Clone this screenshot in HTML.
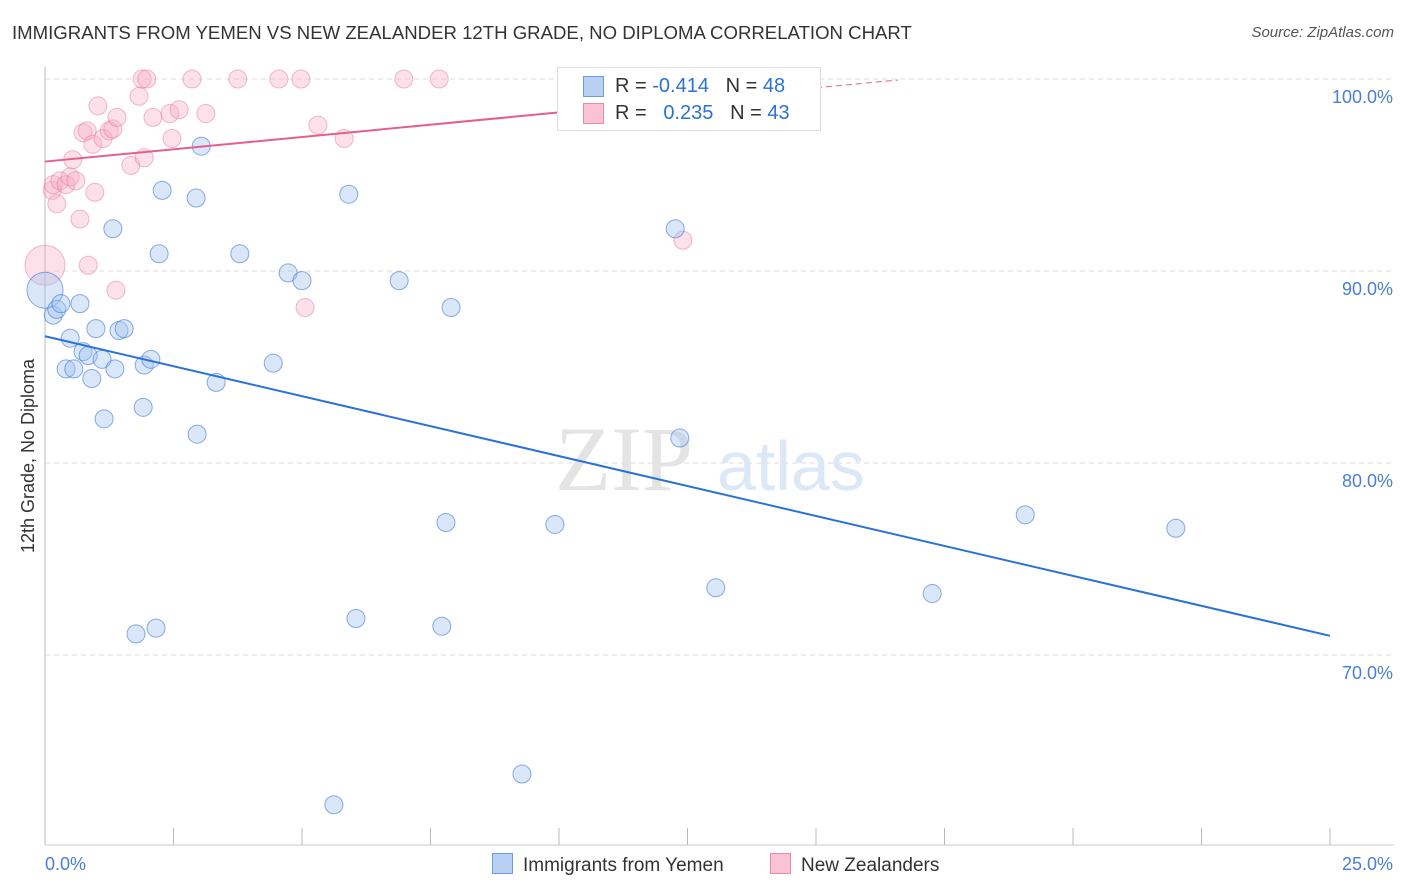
<!DOCTYPE html>
<html><head><meta charset="utf-8"><style>
body{margin:0;background:#fff;font-family:"Liberation Sans",sans-serif;}
#wrap{position:relative;width:1406px;height:892px;overflow:hidden}
.t{position:absolute;white-space:nowrap}
</style></head><body>
<div id="wrap">
<div class="t" style="left:12px;top:22px;font-size:18.6px;color:#333">IMMIGRANTS FROM YEMEN VS NEW ZEALANDER 12TH GRADE, NO DIPLOMA CORRELATION CHART</div>
<div class="t" style="right:12px;top:24px;font-size:15px;color:#555;font-style:italic">Source: ZipAtlas.com</div>
<svg id="svg" width="1406" height="892" style="position:absolute;left:0;top:0"></svg>
</div>
<script>
const xTicks=[0,25];
const yTicks=[100,90,80,70];
const blueX=[0,0.16,0.23,0.31,0.68,0.49,0.99,1.44,1.54,0.74,0.84,1.11,0.41,0.56,0.91,1.36,1.93,2.06,1.15,1.91,2.96,3.33,4.44,2.28,2.94,3.04,1.32,2.22,3.79,4.73,5.00,5.91,6.89,7.90,12.26,12.35,7.80,9.92,13.05,17.26,19.07,22.00,1.77,2.16,6.05,7.72,9.28,5.62];
const blueY=[89.0,87.7,88.0,88.3,88.3,86.5,87.0,86.9,87.0,85.8,85.6,85.4,84.9,84.9,84.4,84.9,85.1,85.4,82.3,82.9,81.5,84.2,85.2,94.2,93.8,96.5,92.2,90.9,90.9,89.9,89.5,94.0,89.5,88.1,92.2,81.3,76.9,76.8,73.5,73.2,77.3,76.6,71.1,71.4,71.9,71.5,63.8,62.2];
const pinkX=[0,0.14,0.23,0.16,0.29,0.41,0.49,0.60,0.54,0.68,0.84,0.97,1.38,0.74,0.82,0.93,1.03,1.13,1.25,1.32,1.40,1.67,1.83,1.93,1.89,1.98,2.10,2.43,2.47,2.61,3.13,2.86,3.75,4.55,4.98,5.31,5.82,5.06,6.98,7.67,12.41];
const pinkY=[90.3,94.2,93.5,94.5,94.7,94.5,94.9,94.7,95.8,92.7,90.3,94.1,89.0,97.2,97.3,96.6,98.6,96.9,97.3,97.4,98.0,95.5,99.1,95.9,100,100,98.0,98.2,96.9,98.4,98.2,100,100,100,100,97.6,96.9,88.1,100,100,91.6];
const blueTrend=[86.6,71.0];
const pinkTrend=[95.7,102.1];
const X=v=>45+v/25*1285, Y=v=>79+(100-v)*19.2;
const svg=document.getElementById('svg');const NS='http://www.w3.org/2000/svg';
function mk(tag,at,parent){const e=document.createElementNS(NS,tag);for(const k in at)e.setAttribute(k,at[k]);(parent||svg).appendChild(e);return e;}
yTicks.forEach(v=>{const l=mk('line',{x1:45,x2:1394,y1:Y(v),y2:Y(v),stroke:'#ddd','stroke-dasharray':'5,4'});


const t=mk('text',{x:1393,y:Y(v)+24,'text-anchor':'end','font-size':18,fill:'#4a7fd4','font-family':'Liberation Sans'});t.textContent=v.toFixed(1)+'%';

});
mk('line',{x1:45,x2:45,y1:67,y2:845,stroke:'#bbb'});
mk('line',{x1:45,x2:1394,y1:845,y2:845,stroke:'#ccc'});
for(let i=1;i<=10;i++){const x=X(i*2.5);const l=mk('line',{x1:x,x2:x,y1:828,y2:845,stroke:'#bbb'});

}
xTicks.forEach((v,i)=>{const t=mk('text',{x:i?1393:45,y:870,'text-anchor':i?'end':'start','font-size':18,fill:'#4a7fd4','font-family':'Liberation Sans'});t.textContent=v.toFixed(1)+'%';

});
const yl=mk('text',{x:0,y:0,transform:'translate(34,456) rotate(-90)','text-anchor':'middle','font-size':18,fill:'#333','font-family':'Liberation Sans'});yl.textContent='12th Grade, No Diploma';


const wm=mk('text',{x:555,y:490,'font-size':92,fill:'#e4e4e4','font-family':'Liberation Serif'});wm.textContent='ZIP';


const wm2=mk('text',{x:717,y:490,'font-size':70,fill:'#dde8f6','font-family':'Liberation Sans'});wm2.textContent='atlas';


pinkX.forEach((x,i)=>{const c=mk('circle',{cx:X(x),cy:Y(pinkY[i]),r:i==0?20:9,fill:'rgba(246,170,195,0.35)',stroke:'rgba(230,120,155,0.5)','stroke-width':1});

});
blueX.forEach((x,i)=>{const c=mk('circle',{cx:X(x),cy:Y(blueY[i]),r:i==0?18:9,fill:'rgba(160,195,240,0.4)',stroke:'rgba(60,120,210,0.6)','stroke-width':1});

});
const bt=mk('line',{x1:X(0),y1:Y(blueTrend[0]),x2:X(25),y2:Y(blueTrend[1]),stroke:'#2a72d8','stroke-width':2});


const py=x=>pinkTrend[0]+(pinkTrend[1]-pinkTrend[0])*x/25;
const pt=mk('line',{x1:X(0),y1:Y(py(0)),x2:X(15),y2:Y(py(15)),stroke:'#e4608c','stroke-width':2});


const pd=mk('line',{x1:X(15),y1:Y(py(15)),x2:X(16.6),y2:Y(py(16.6)),stroke:'#e4608c','stroke-width':1,'stroke-dasharray':'6,4'});


</script>
<div class="t" style="left:557px;top:67px;width:262px;height:62px;background:#fff;border:1px solid #ddd;font-size:20px;color:#333">
 <div style="position:absolute;left:25px;top:8px;width:19px;height:19px;background:#b8d1f3;border:1px solid #6b9be0"></div>
 <div style="position:absolute;left:57px;top:7px">R = <span style="color:#2a72d8">-0.414</span>&nbsp;&nbsp;&nbsp;N = <span style="color:#2a72d8">48</span></div>
 <div style="position:absolute;left:25px;top:35px;width:19px;height:19px;background:#f9c3d4;border:1px solid #e88aab"></div>
 <div style="position:absolute;left:57px;top:34px">R = &nbsp;&nbsp;<span style="color:#2a72d8">0.235</span>&nbsp;&nbsp;&nbsp;N = <span style="color:#2a72d8">43</span></div>
</div>
<div class="t" style="left:492px;top:853px;font-size:19px;color:#333"><span style="display:inline-block;width:19px;height:19px;background:#b8d1f3;border:1px solid #6b9be0;vertical-align:-3px;margin-right:10px"></span>Immigrants from Yemen</div>
<div class="t" style="left:770px;top:853px;font-size:19px;color:#333"><span style="display:inline-block;width:19px;height:19px;background:#f9c3d4;border:1px solid #e88aab;vertical-align:-3px;margin-right:10px"></span>New Zealanders</div>
</body></html>
